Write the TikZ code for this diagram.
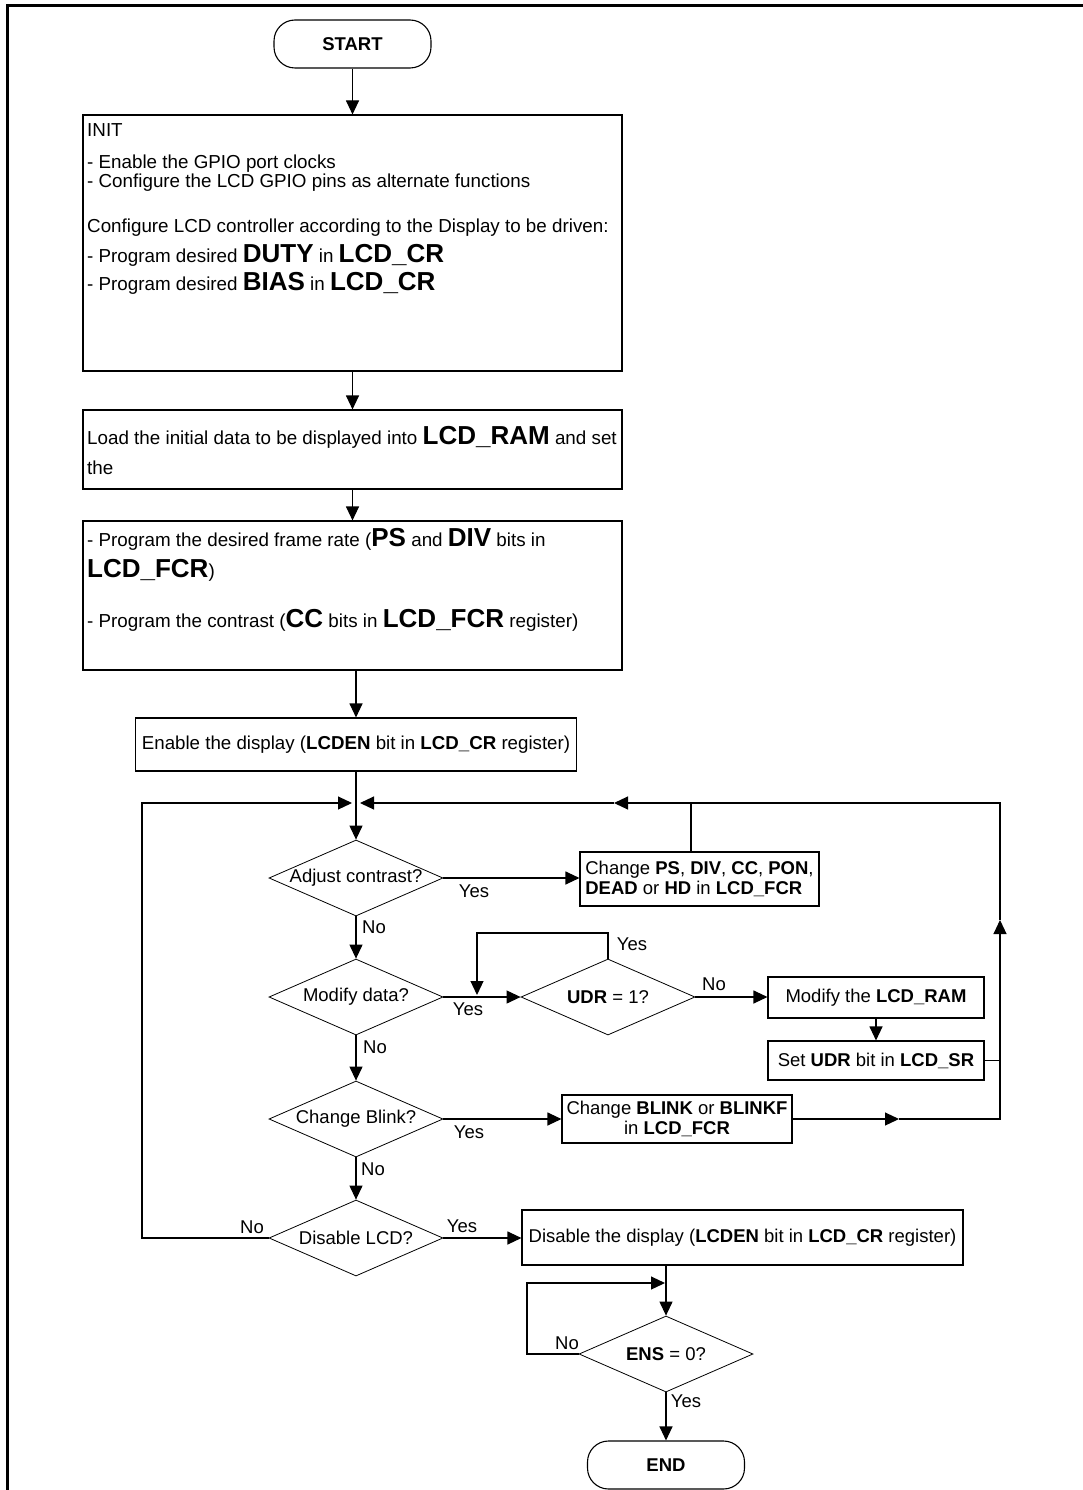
\documentclass[tikz,border=0pt]{standalone}
\usepackage{fontspec}
\setmainfont{Liberation Sans}
\usetikzlibrary{arrows.meta,shapes.geometric}
\newcommand\Bg[1]{{\fontsize{26}{30}\selectfont\bfseries #1}}
\begin{document}
\begin{tikzpicture}[x=1pt,y=-1pt,
  every node/.style={font=\fontsize{18.5}{20.5}\selectfont},
  line/.style={line width=1.1pt},
  arr/.style={line width=1.1pt,-{Triangle[length=14pt,width=13pt]}},
  box/.style={draw,line width=1.1pt,rectangle,inner sep=0pt},
  wide/.style={font=\fontsize{18.7}{21}\selectfont},
  dia/.style={draw,line width=0.8pt,diamond,inner sep=0pt,aspect=2.3,minimum width=174pt,minimum height=76pt},
  term/.style={draw,line width=1.1pt,rectangle,rounded corners=21pt,minimum width=157pt,minimum height=48pt,font=\fontsize{18.5}{20}\selectfont\bfseries},
  tl/.style={anchor=base west,inner sep=0pt,font=\fontsize{18.8}{21}\selectfont},
  lbl/.style={inner sep=0pt},
]
\useasboundingbox (0,0) rectangle (1082,1490);
\draw[line width=3pt] (7,1492) -- (7,6) -- (1084,6);

% main column boxes
\node[term] (start) at (352.5,44) {START};
\node[box,minimum width=539pt,minimum height=256pt] (init) at (352.5,243) {};
\node[tl] (t1) at (87,136.5) {INIT};
\node[tl] (t2) at (87,168) {- Enable the GPIO port clocks};
\node[tl] (t3) at (87,188) {- Configure the LCD GPIO pins as alternate functions};
\node[tl] (t4) at (87,232) {Configure LCD controller according to the Display to be driven:};
\node[tl] (t5) at (87,262.5) {- Program desired \Bg{DUTY} in \Bg{LCD\_CR}};
\node[tl] (t6) at (87,290) {- Program desired \Bg{BIAS} in \Bg{LCD\_CR}};

\node[box,minimum width=539pt,minimum height=79pt] (load) at (352.5,449.5) {};
\node[tl] (l1) at (87,444) {Load the initial data to be displayed into \Bg{LCD\_RAM} and set};
\node[tl] (l2) at (87,474) {the};

\node[box,minimum width=539pt,minimum height=149pt] (prog) at (352.5,595.5) {};
\node[tl] (p1) at (87,546) {- Program the desired frame rate (\Bg{PS} and \Bg{DIV} bits in};
\node[tl] (p2) at (87,577) {\Bg{LCD\_FCR})};
\node[tl] (p3) at (87,627) {- Program the contrast (\Bg{CC} bits in \Bg{LCD\_FCR} register)};

\node[box,wide,minimum width=441pt,minimum height=53pt] (enable) at (356,744.5) {Enable the display (\textbf{LCDEN} bit in \textbf{LCD\_CR} register)};

% decisions
\node[dia] (adj) at (356,878) {Adjust contrast?};
\node[dia] (mod) at (356,997) {Modify data?};
\node[dia] (udr) at (608,997) {\textbf{UDR} = 1?};
\node[dia] (blink) at (356,1119) {Change Blink?};
\node[dia] (dis) at (356,1238) {Disable LCD?};
\node[dia] (ens) at (666,1354) {\textbf{ENS} = 0?};

% side boxes
\node[box,minimum width=239pt,minimum height=54pt,align=left] (chps) at (699.5,879) {Change \textbf{PS}, \textbf{DIV}, \textbf{CC}, \textbf{PON},\\\textbf{DEAD} or \textbf{HD} in \textbf{LCD\_FCR}};
\node[box,minimum width=216pt,minimum height=41pt] (modram) at (876,997.5) {Modify the \textbf{LCD\_RAM}};
\node[box,minimum width=216pt,minimum height=39pt] (setudr) at (876,1060.5) {Set \textbf{UDR} bit in \textbf{LCD\_SR}};
\node[box,minimum width=230pt,minimum height=48pt,align=center] (blinkbox) at (677,1119) {Change \textbf{BLINK} or \textbf{BLINKF}\\in \textbf{LCD\_FCR}};
\node[box,font=\fontsize{18.5}{21}\selectfont,minimum width=441pt,minimum height=55pt] (disbox) at (742.5,1237.5) {Disable the display (\textbf{LCDEN} bit in \textbf{LCD\_CR} register)};
\node[term] (endn) at (666,1465) {END};

% labels
\node[lbl] (yadj) at (474,891) {Yes};
\node[lbl] (nadj) at (374,927) {No};
\node[lbl] (ymod) at (468,1009) {Yes};
\node[lbl] (nmod) at (375,1047) {No};
\node[lbl] (yudr) at (632,944) {Yes};
\node[lbl] (nudr) at (714,984) {No};
\node[lbl] (yblk) at (469,1132) {Yes};
\node[lbl] (nblk) at (373,1169) {No};
\node[lbl] (ndis) at (252,1227) {No};
\node[lbl] (ydis) at (462,1226) {Yes};
\node[lbl] (nens) at (567,1343) {No};
\node[lbl] (yens) at (686,1401) {Yes};

% coordinates
\coordinate (ltip) at (352,803);
\coordinate (lcorner) at (142,803);
\coordinate (rtip) at (360,803);
\coordinate (tmid) at (614,803);
\coordinate (pstop) at (691,803);
\coordinate (rtop) at (1000,803);
\coordinate (rmid) at (1000,920);
\coordinate (rbot) at (1000,1119);
\coordinate (bmid) at (899,1119);
\coordinate (uy) at (477,933);
\coordinate (utip) at (477,995);
\coordinate (eL) at (527,1283);
\coordinate (eT) at (665,1283);

% main connectors
\draw[arr] (start.south) -- (start.south |- init.north);
\draw[arr] (init.south) -- (load.north);
\draw[arr] (load.south) -- (prog.north);
\draw[arr] (enable.north |- prog.south) -- (enable.north);
\draw[arr] (enable.south) -- (adj.north);
\draw[arr] (adj.south) -- (mod.north);
\draw[arr] (mod.south) -- (blink.north);
\draw[arr] (blink.south) -- (dis.north);

% yes branches
\draw[arr] (adj.east) -- (adj.east -| chps.west);
\draw[arr] (mod.east) -- (udr.west);
\draw[arr] (udr.east) -- (udr.east -| modram.west);
\draw[arr] (udr.north) |- (uy) -- (utip);
\draw[arr] (modram.south) -- (setudr.north);
\draw[arr] (blink.east) -- (blinkbox.west);
\draw[arr] (dis.east) -- (dis.east -| disbox.west);

% return paths
\draw[arr] (dis.west) -| (lcorner) -- (ltip);
\draw[arr] (blinkbox.east) -- (bmid);
\draw[arr] (bmid) -- (rbot) -- (rmid);
\draw[arr] (rmid) -- (rtop) -- (tmid);
\draw[arr] (tmid) -- (rtip);
\draw[line] (chps.north -| pstop) -- (pstop);
\draw[line] (setudr.east) -- (setudr.east -| rtop);

% end part
\draw[arr] (disbox.south -| ens.north) -- (ens.north);
\draw[arr] (ens.west) -| (eL) -- (eT);
\draw[arr] (ens.south) -- (endn.north);
\end{tikzpicture}
\end{document}
